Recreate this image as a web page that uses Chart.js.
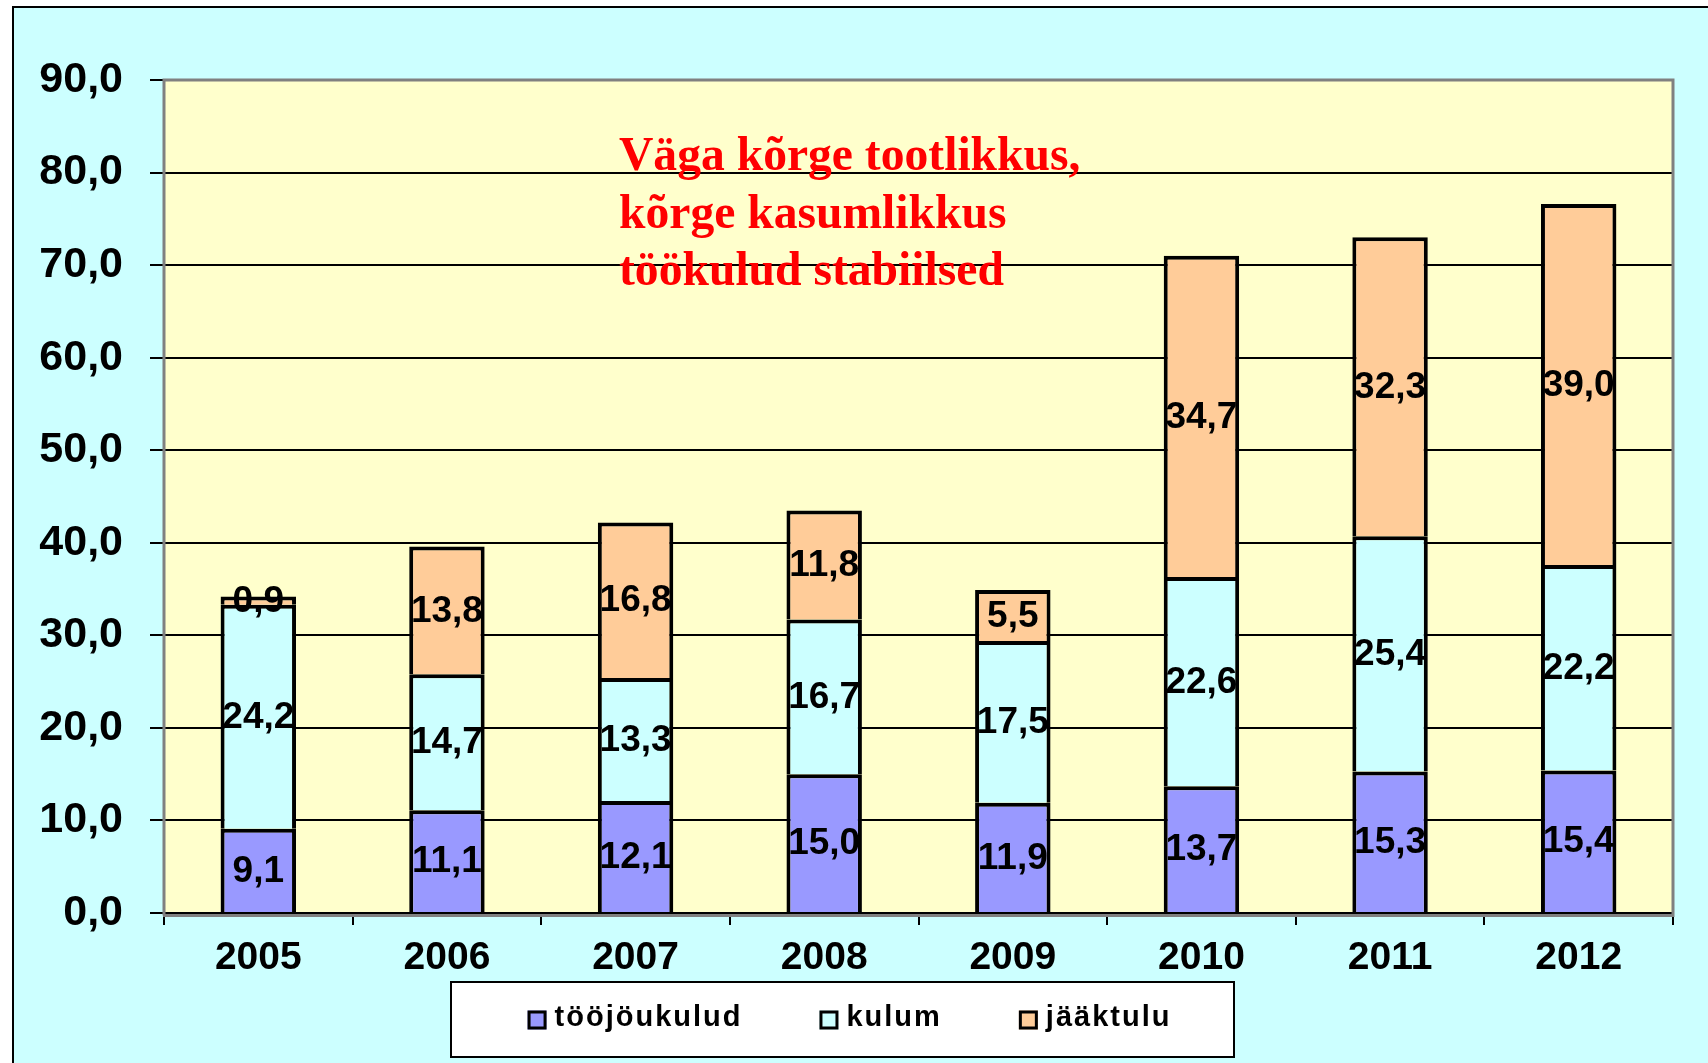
<!DOCTYPE html>
<html>
<head>
<meta charset="utf-8">
<script src="https://cdn.jsdelivr.net/npm/chart.js@4.4.1/dist/chart.umd.min.js"></script>
<style>
html,body{margin:0;padding:0;background:#fff;overflow:hidden;}
#wrap{width:1708px;height:1063px;position:relative;}
canvas{display:block;}
</style>
</head>
<body>
<div id="wrap"><canvas id="c" width="1708" height="1063"></canvas></div>
<script>
// ---- data ----
const categories = ['2005', '2006', '2007', '2008', '2009', '2010', '2011', '2012'];
const toojoukulud = [9.1, 11.1, 12.1, 15.0, 11.9, 13.7, 15.3, 15.4];
const kulum = [24.2, 14.7, 13.3, 16.7, 17.5, 22.6, 25.4, 22.2];
const jaaktulu = [0.9, 13.8, 16.8, 11.8, 5.5, 34.7, 32.3, 39.0];
const seriesNames = ['tööjöukulud', 'kulum', 'jääktulu'];
const yTickValues = [0, 10, 20, 30, 40, 50, 60, 70, 80, 90];
const annotationLines = ['Väga kõrge tootlikkus,', 'kõrge kasumlikkus', 'töökulud stabiilsed'];

// ---- styles ----
const seriesColors = ['#9999FF', '#CCFFFF', '#FFCC99'];
const SANS = 'Arial, "Liberation Sans", sans-serif';
const SERIF = '"Times New Roman", "Liberation Serif", serif';
const fmt = v => Number(v).toFixed(1).replace('.', ',');

const backgroundPlugin = {
  id: 'bg',
  beforeDraw(chart) {
    const ctx = chart.ctx, W = chart.width, H = chart.height, ca = chart.chartArea;
    ctx.save();
    ctx.fillStyle = '#FFFFFF';
    ctx.fillRect(0, 0, W, H);
    ctx.fillStyle = '#CCFFFF';
    ctx.fillRect(13, 7, W - 13, H - 7);
    ctx.strokeStyle = '#000';
    ctx.lineWidth = 2;
    ctx.beginPath();
    ctx.moveTo(12, 7); ctx.lineTo(W, 7);
    ctx.moveTo(13, 6); ctx.lineTo(13, H);
    ctx.stroke();
    ctx.fillStyle = '#FFFFCC';
    ctx.fillRect(ca.left, ca.top, ca.right - ca.left, ca.bottom - ca.top);
    ctx.restore();
  }
};

const overlayPlugin = {
  id: 'overlay',
  afterDatasetsDraw(chart) {
    const ctx = chart.ctx, ca = chart.chartArea;
    ctx.save();
    // plot frame
    ctx.strokeStyle = '#808080';
    ctx.lineWidth = 3;
    ctx.beginPath();
    ctx.moveTo(ca.left, ca.bottom + 2.5); ctx.lineTo(ca.left, ca.top);
    ctx.lineTo(ca.right, ca.top); ctx.lineTo(ca.right, ca.bottom + 2.5);
    ctx.moveTo(ca.left - 1, ca.bottom + 2.5); ctx.lineTo(ca.right + 1.5, ca.bottom + 2.5);
    ctx.stroke();
    // data labels
    ctx.font = 'bold 37px ' + SANS;
    ctx.fillStyle = '#000';
    ctx.textAlign = 'center';
    ctx.textBaseline = 'middle';
    chart.data.datasets.forEach((ds, i) => {
      const meta = chart.getDatasetMeta(i);
      meta.data.forEach((bar, j) => {
        ctx.fillText(fmt(ds.data[j]), bar.x, (bar.y + bar.base) / 2 + 1);
      });
    });
    // annotation
    ctx.font = 'bold 47.6px ' + SERIF;
    ctx.fillStyle = '#FF0000';
    ctx.textAlign = 'left';
    ctx.textBaseline = 'alphabetic';
    annotationLines.forEach((t, k) => ctx.fillText(t, 619, 170 + k * 57.5));
    ctx.restore();
  },
  afterDraw(chart) {
    const ctx = chart.ctx;
    ctx.save();
    const lx = 451, ly = 982, lw = 783, lh = 75;
    ctx.fillStyle = '#FFFFFF';
    ctx.fillRect(lx, ly, lw, lh);
    ctx.strokeStyle = '#000';
    ctx.lineWidth = 2;
    ctx.strokeRect(lx, ly, lw, lh);
    ctx.font = 'bold 29px ' + SANS;
    if ('letterSpacing' in ctx) ctx.letterSpacing = '2px';
    const sq = 19, sqGap = 27, itemGap = 77;
    const widths = chart.data.datasets.map(ds => ctx.measureText(ds.label).width);
    const total = widths.reduce((a, b) => a + b, 0) + sqGap * 3 + itemGap * 2;
    let x = lx + (lw - total) / 2 + 7;
    const cy = 1020;
    chart.data.datasets.forEach((ds, i) => {
      ctx.fillStyle = ds.backgroundColor;
      ctx.fillRect(x, cy - sq / 2, sq, sq);
      ctx.lineWidth = 3;
      ctx.strokeStyle = '#000';
      ctx.strokeRect(x + 1.5, cy - sq / 2 + 1.5, sq - 3, sq - 3);
      ctx.fillStyle = '#000';
      ctx.textAlign = 'left';
      ctx.textBaseline = 'alphabetic';
      ctx.fillText(ds.label, x + sqGap, 1026);
      x += sqGap + widths[i] + itemGap;
    });
    ctx.restore();
  }
};

const mk = (label, data, color) => ({
  label, data,
  backgroundColor: color,
  borderColor: '#000',
  borderWidth: 4,
  borderSkipped: 'start',
  barPercentage: 0.4,
  categoryPercentage: 1.0
});

new Chart(document.getElementById('c'), {
  type: 'bar',
  data: {
    labels: categories,
    datasets: [
      mk(seriesNames[0], toojoukulud, seriesColors[0]),
      mk(seriesNames[1], kulum, seriesColors[1]),
      mk(seriesNames[2], jaaktulu, seriesColors[2])
    ]
  },
  options: {
    responsive: false,
    animation: false,
    devicePixelRatio: 1,
    layout: { padding: { top: 80, right: 35, left: 0, bottom: 0 } },
    plugins: { legend: { display: false }, tooltip: { enabled: false } },
    scales: {
      x: {
        stacked: true,
        grid: { drawOnChartArea: false, color: '#000', lineWidth: 2, tickLength: 12, offset: true },
        border: { display: false },
        ticks: { color: '#000', font: { family: SANS, size: 39, weight: 'bold' }, padding: 10, maxRotation: 0 },
        afterFit(s) { s.height = 150; }
      },
      y: {
        stacked: true,
        min: yTickValues[0],
        max: yTickValues[yTickValues.length - 1],
        afterBuildTicks(s) { s.ticks = yTickValues.map(v => ({ value: v })); },
        ticks: { color: '#000', font: { family: SANS, size: 43, weight: 'bold' }, padding: 27, callback: v => fmt(v) },
        grid: { color: '#000', lineWidth: 2, tickLength: 14 },
        border: { display: false },
        afterFit(s) { s.width = 164; }
      }
    }
  },
  plugins: [backgroundPlugin, overlayPlugin]
});
</script>
</body>
</html>
